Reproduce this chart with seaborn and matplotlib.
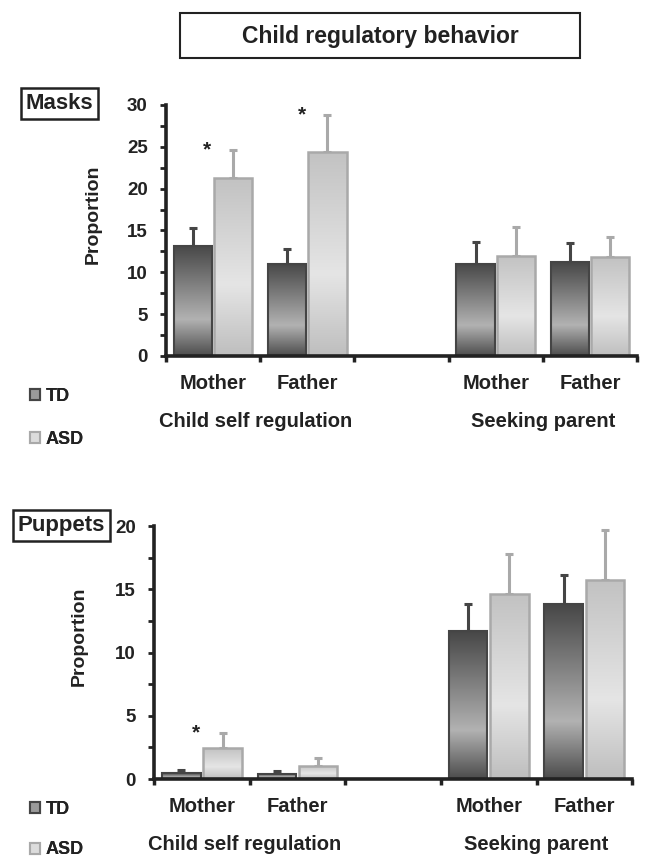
import numpy as np
import pandas as pd
import matplotlib
matplotlib.use('Agg')
import matplotlib.pyplot as plt
import seaborn as sns
from matplotlib.colors import LinearSegmentedColormap
from matplotlib.patches import Patch, Rectangle

# Values
categories = ['Mother', 'Father', 'Mother', 'Father']
contexts = ['Child self regulation', 'Seeking parent']
groups = ['TD', 'ASD']

masks_td_mean = [13.2, 11.0, 11.0, 11.2]
masks_td_err = [2.1, 1.8, 2.6, 2.3]
masks_asd_mean = [21.3, 24.4, 12.0, 11.8]
masks_asd_err = [3.3, 4.4, 3.4, 2.4]
masks_signif = [True, True, False, False]

puppets_td_mean = [0.47, 0.42, 11.7, 13.8]
puppets_td_err = [0.25, 0.25, 2.1, 2.3]
puppets_asd_mean = [2.45, 1.05, 14.6, 15.7]
puppets_asd_err = [1.2, 0.6, 3.2, 4.0]
puppets_signif = [True, False, False, False]

slots = ['csr_mother', 'csr_father', 'sp_mother', 'sp_father']
order = ['csr_mother', 'csr_father', 'gap', 'sp_mother', 'sp_father']

sns.set_style('ticks')
plt.rcParams['font.family'] = ['Liberation Sans', 'DejaVu Sans']
plt.rcParams['font.weight'] = 'bold'
plt.rcParams['axes.labelweight'] = 'bold'

INK = '#222222'
td_cmap = LinearSegmentedColormap.from_list('td', [(0, '#4c4c4c'), (0.33, '#b2b2b2'), (1, '#474747')])
asd_cmap = LinearSegmentedColormap.from_list('asd', [(0, '#bebebe'), (0.4, '#e5e5e5'), (1, '#c2c2c2')])
styles = {
    'TD': dict(cmap=td_cmap, edge='#454545', lw=1.5),
    'ASD': dict(cmap=asd_cmap, edge='#a9a9a9', lw=1.8),
}


def draw_panel(ax, td_mean, td_err, asd_mean, asd_err, signif, ymax, label_x):
    df = pd.DataFrame({
        'slot': slots * 2,
        'group': ['TD'] * 4 + ['ASD'] * 4,
        'value': td_mean + asd_mean,
        'err': td_err + asd_err,
    })
    sns.barplot(data=df, x='slot', y='value', hue='group', order=order,
                hue_order=groups, width=0.86, gap=0.06, errorbar=None,
                legend=False, ax=ax, palette=['#555555', '#cccccc'])

    grad = np.linspace(0, 1, 256).reshape(-1, 1)
    for grp, cont in zip(groups, ax.containers):
        st = styles[grp]
        sub = df[df['group'] == grp].set_index('slot')
        for bar in cont:
            x0, w, h = bar.get_x(), bar.get_width(), bar.get_height()
            if np.isnan(h):
                continue
            cx = x0 + w / 2
            slot = order[int(round(cx))]
            im = ax.imshow(grad, extent=[x0, x0 + w, 0, h], origin='lower',
                           cmap=st['cmap'], aspect='auto', zorder=1.5)
            im.set_clip_path(bar)
            bar.set_facecolor('none')
            bar.set_edgecolor(st['edge'])
            bar.set_linewidth(st['lw'])
            bar.set_zorder(2)
            ax.errorbar(cx, h, yerr=[[0], [sub.loc[slot, 'err']]], fmt='none',
                        ecolor=st['edge'], elinewidth=2.2, capsize=2.6,
                        capthick=2.2, zorder=1.2)

    # significance stars between the two bars
    for i, s in enumerate(slots):
        if signif[i]:
            top = df[(df['slot'] == s) & (df['group'] == 'ASD')]
            y = float(top['value'].iloc[0] + top['err'].iloc[0])
            xi = order.index(s)
            ax.text(xi - 0.06, y, '*', ha='center', va='center',
                    fontsize=15, color=INK)

    ax.set_xlim(-0.5, 4.5)
    ax.set_ylim(0, ymax)
    ax.set_xlabel('')
    ax.set_ylabel('Proportion', fontsize=14, color=INK)
    ax.yaxis.set_label_coords(label_x, 0.566)
    ax.set_xticks([0, 1, 3, 4], labels=categories)
    ax.set_xticks(np.arange(-0.5, 5, 1), minor=True)
    ax.set_yticks(np.arange(0, ymax + 1, 5))
    ax.set_yticks(np.arange(0, ymax + 0.1, 2.5), minor=True)
    ax.tick_params(axis='x', which='major', length=0, pad=13,
                   labelsize=14.5, labelcolor=INK)
    ax.tick_params(axis='x', which='minor', length=4, width=2.5,
                   direction='out', color=INK)
    ax.tick_params(axis='y', which='both', length=4, width=2,
                   direction='out', color=INK, labelsize=13.5,
                   labelcolor=INK, pad=9)
    for lab in ax.get_yticklabels() + ax.get_xticklabels():
        lab.set_fontweight('bold')
    sns.despine(ax=ax)
    for sp in ['left', 'bottom']:
        ax.spines[sp].set_linewidth(2.6)
        ax.spines[sp].set_color(INK)

    for xc, txt in zip([0.45, 3.5], contexts):
        ax.annotate(txt, xy=(xc, 0), xycoords=('data', 'axes fraction'),
                    xytext=(0, -47), textcoords='offset points',
                    ha='center', va='center', fontsize=14.5, color=INK,
                    fontweight='bold')


fig = plt.figure(figsize=(6.45, 8.57), dpi=100)
ax1 = fig.add_axes([0.257, 0.5846, 0.731, 0.2929])
ax2 = fig.add_axes([0.239, 0.091, 0.741, 0.2952])

draw_panel(ax1, masks_td_mean, masks_td_err, masks_asd_mean, masks_asd_err,
           masks_signif, 30, -0.136)
draw_panel(ax2, puppets_td_mean, puppets_td_err, puppets_asd_mean,
           puppets_asd_err, puppets_signif, 20, -0.138)

# title box
fig.add_artist(Rectangle((0.279, 0.932), 0.620, 0.0525, transform=fig.transFigure,
                         fill=False, lw=1.5, ec=INK))
fig.text(0.589, 0.957, 'Child regulatory behavior', ha='center', va='center',
         fontsize=16.5, fontweight='bold', color=INK)

# panel labels
for (x, y), txt in zip([(0.092, 0.879), (0.095, 0.387)], ['Masks', 'Puppets']):
    fig.text(x, y, txt, ha='center', va='center', fontsize=16,
             fontweight='bold', color=INK,
             bbox=dict(boxstyle='square,pad=0.22', fc='white', ec=INK, lw=1.8))

# legends
handles = [Patch(facecolor='#9a9a9a', edgecolor='#454545', lw=1.5),
           Patch(facecolor='#dcdcdc', edgecolor='#a9a9a9', lw=1.5)]
for ytop, spacing in [(1 - 388 / 857, 1.45), (1 - 801 / 857, 1.3)]:
    leg = fig.legend(handles, groups, loc='upper left',
                     bbox_to_anchor=(0.046, ytop), frameon=False,
                     borderpad=0, borderaxespad=0, labelspacing=spacing,
                     handlelength=0.55, handleheight=0.55, handletextpad=0.35,
                     prop=dict(size=13, weight='bold'))
    for t in leg.get_texts():
        t.set_color(INK)
    fig.add_artist(leg)

fig.savefig('out.png', dpi=100)
